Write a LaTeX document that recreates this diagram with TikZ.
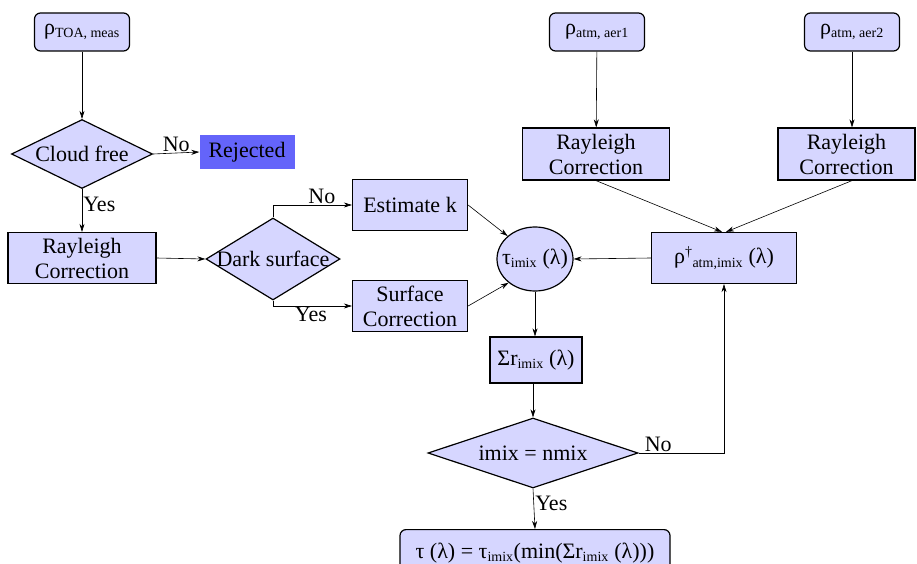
\documentclass[tikz,border=0pt]{standalone}
\usepackage{fontspec}
\setmainfont{Liberation Serif}
\usetikzlibrary{shapes.geometric,arrows.meta}
\definecolor{boxfill}{RGB}{214,214,255}
\definecolor{rejfill}{RGB}{100,100,250}
\newcommand{\sbs}[1]{\textsubscript{\fontsize{14}{14}\selectfont #1}}
\tikzset{
  every node/.style={font=\fontsize{22}{25}\selectfont},
  box/.style={draw, line width=1.2pt, fill=boxfill, inner sep=0pt, align=center},
  rbox/.style={box, rounded corners=6pt},
  dia/.style={draw, line width=1.2pt, fill=boxfill, diamond, inner sep=0pt},
  ell/.style={draw, line width=1.2pt, fill=boxfill, ellipse, inner sep=0pt},
  conn/.style={-{Stealth[length=8pt,width=5pt]}, line width=0.6pt},
  lbl/.style={inner sep=1pt}
}
\begin{document}
\begin{tikzpicture}[x=1pt,y=-1pt]
\clip (0,0) rectangle (917,564);
\useasboundingbox (0,0) rectangle (917,564);
% nodes
\node[rbox, minimum width=95pt, minimum height=38pt] (toa) at (82,32) {ρ\sbs{TOA, meas}};
\node[dia, minimum width=141pt, minimum height=69pt] (cf) at (82,154) {\makebox[0pt]{Cloud free}};
\node[fill=rejfill, minimum width=95pt, minimum height=34pt, inner sep=0pt] (rej) at (247,152) {Rejected};
\node[box, minimum width=148pt, minimum height=51pt] (ray1) at (82,258) {Rayleigh\\Correction};
\node[dia, minimum width=134pt, minimum height=82pt] (dark) at (273,259) {\makebox[0pt]{Dark surface}};
\node[box, minimum width=115pt, minimum height=51pt] (est) at (410,205) {Estimate k};
\node[box, minimum width=115pt, minimum height=51pt] (surf) at (410,306) {Surface\\Correction};
\node[ell, minimum width=76pt, minimum height=64pt] (tau) at (535,259) {\makebox[0pt]{τ\sbs{imix} (λ)}};
\node[box, minimum width=145pt, minimum height=51pt] (rhoi) at (724,258) {ρ\textsuperscript{\fontsize{14}{14}\selectfont †}\sbs{atm,imix} (λ)};
\node[rbox, minimum width=95pt, minimum height=38pt] (aer1) at (597,32) {ρ\sbs{atm, aer1}};
\node[rbox, minimum width=95pt, minimum height=38pt] (aer2) at (852,32) {ρ\sbs{atm, aer2}};
\node[box, minimum width=147pt, minimum height=52pt] (ray2) at (596,154) {Rayleigh\\Correction};
\node[box, minimum width=137pt, minimum height=52pt] (ray3) at (846.5,154) {Rayleigh\\Correction};
\node[box, minimum width=92pt, minimum height=46pt] (sum) at (536,360) {Σr\sbs{imix} (λ)};
\node[dia, minimum width=210pt, minimum height=70pt] (imix) at (533,453) {\makebox[0pt]{imix = nmix}};
\node[rbox, minimum width=270pt, minimum height=46pt, anchor=north] (fin) at (535,529) {\raisebox{-7pt}{τ (λ) = τ\sbs{imix}(min(Σr\sbs{imix} (λ)))}};
% connectors
\draw[conn] (toa) -- (cf);
\draw[conn] (cf.east) -- (rej.west) node[lbl, midway, above] {No};
\draw[conn] (cf.south) -- (ray1.north) node[lbl, midway, right, yshift=6pt] {Yes};
\draw[conn] (ray1.east) -- (dark.west);
\draw[conn] (dark.north) |- (est.west) node[lbl, pos=0.81, above] {No};
\draw[conn] (dark.south) |- (surf.west) node[lbl, pos=0.74, below] {Yes};
\draw[conn] (est.east) -- (tau.140);
\draw[conn] (surf.east) -- (tau.222);
\draw[conn] (rhoi.west) -- (tau.east);
\draw[conn] (aer1) -- (ray2);
\draw[conn] (aer2) -- (aer2 |- ray3.north);
\draw[conn] (ray2.south) -- ([xshift=-2pt]rhoi.north);
\draw[conn] (ray3.south -| aer2) -- ([xshift=2pt]rhoi.north);
\draw[conn] (tau.south) -- (tau.south |- sum.north);
\draw[conn] (sum.south -| imix) -- (imix.north);
\draw[conn] (imix.east) -| (rhoi.south) node[lbl, pos=0.115, above] {No};
\draw[conn] (imix.south) -- (fin.north) node[lbl, midway, right, yshift=5pt] {Yes};
\end{tikzpicture}
\end{document}
